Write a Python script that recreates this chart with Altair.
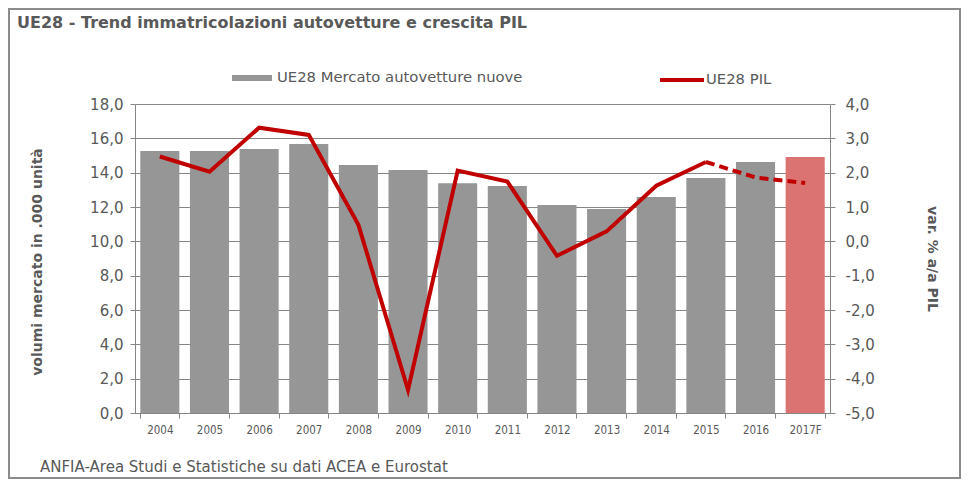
import altair as alt
import pandas as pd

# ---- data ----
anni = ["2004", "2005", "2006", "2007", "2008", "2009", "2010",
        "2011", "2012", "2013", "2014", "2015", "2016", "2017F"]
mercato = [15.26, 15.26, 15.38, 15.67, 14.44, 14.15, 13.39,
           13.22, 12.11, 11.88, 12.58, 13.69, 14.62, 14.91]
pil = [2.47, 2.03, 3.31, 3.10, 0.48, -4.33, 2.06,
       1.74, -0.42, 0.29, 1.62, 2.31, 1.86, 1.70]
anni_consuntivo = anni[:12]      # solid line 2004-2015
anni_previsione = anni[11:]      # dashed line 2015-2017F
serie_barre = "UE28 Mercato autovetture nuove"
serie_prev = "Previsione"
serie_linea = "UE28 PIL"
tipo = [serie_barre] * 13 + [serie_prev]
titolo = "UE28 - Trend immatricolazioni autovetture e crescita PIL"
fonte = "ANFIA-Area Studi e Statistiche su dati ACEA e Eurostat"
titolo_sx = "volumi mercato in .000 unità"
titolo_dx = "var. % a/a PIL"
tick_sx = [0, 2, 4, 6, 8, 10, 12, 14, 16, 18]
tick_dx = [-5, -4, -3, -2, -1, 0, 1, 2, 3, 4]

# ---- layout / style ----
W, H = 695, 309
PAD_IN = 0.213
FONT = "DejaVu Sans"
FONT_X = "DejaVu Sans Condensed"
GREY_TXT = "#595959"
GRID = "#868686"
RED = "#c00000"
BAR_GREY = "#969696"
BAR_RED = "#dc7373"

df = pd.DataFrame({"anno": anni, "mercato": mercato, "pil": pil,
                   "tipo": tipo, "serie_pil": serie_linea})

label_expr = ("replace(replace(format(datum.value, '.1f'), '.', ','), "
              "'\u2212', '-')")

x_scale = alt.Scale(domain=anni, paddingInner=PAD_IN, paddingOuter=PAD_IN / 2)
x_axis = alt.Axis(title=None, labelAngle=0, tickBand="extent", tickSize=5,
                  tickColor=GRID, domainColor=GRID, labelFont=FONT_X,
                  labelFontSize=11.5, labelColor=GREY_TXT, labelPadding=6,
                  grid=False)
x_enc = alt.X("anno:N", sort=anni, scale=x_scale, axis=x_axis)

y_bar_scale = alt.Scale(domain=[0, 18], nice=False, zero=True)
y_bar_axis = alt.Axis(values=tick_sx, labelExpr=label_expr, grid=True,
                      gridColor=GRID, gridWidth=1, domainColor=GRID,
                      tickColor=GRID, tickSize=5, labelFont=FONT,
                      labelFontSize=15, labelColor=GREY_TXT, labelPadding=7,
                      title=titolo_sx, titleFont=FONT, titleFontSize=14,
                      titleFontWeight="bold", titleColor=GREY_TXT,
                      titleX=-98, titleY=H / 2 + 3, titleAngle=270,
                      titleBaseline="middle", titleAlign="center")

y_pil_scale = alt.Scale(domain=[-5, 4], nice=False, zero=False)
y_pil_axis = alt.Axis(orient="right", values=tick_dx, labelExpr=label_expr,
                      grid=False, domainColor=GRID, tickColor=GRID,
                      tickSize=5, labelFont=FONT, labelFontSize=15,
                      labelColor=GREY_TXT, labelPadding=10,
                      title=titolo_dx, titleFont=FONT, titleFontSize=14,
                      titleFontWeight="bold", titleColor=GREY_TXT,
                      titleX=101, titleY=H / 2, titleAngle=90,
                      titleBaseline="middle", titleAlign="center")

base = alt.Chart(df)

bars = base.mark_bar().encode(
    x=x_enc,
    y=alt.Y("mercato:Q", scale=y_bar_scale, axis=y_bar_axis),
    fill=alt.Fill("tipo:N",
                  scale=alt.Scale(domain=[serie_barre, serie_prev],
                                  range=[BAR_GREY, BAR_RED]),
                  legend=alt.Legend(title=None, values=[serie_barre],
                                    orient="none", legendX=97, legendY=-46,
                                    symbolType="M-1,-0.15L1,-0.15L1,0.15L-1,0.15Z",
                                    symbolSize=1600, symbolStrokeWidth=0,
                                    symbolOpacity=1,
                                    labelFont=FONT, labelFontSize=14.8,
                                    labelColor=GREY_TXT, labelLimit=400,
                                    labelOffset=5, padding=0)),
)

line_solid = base.transform_filter(
    alt.FieldOneOfPredicate(field="anno", oneOf=anni_consuntivo)
).mark_line(strokeWidth=4).encode(
    x=x_enc,
    y=alt.Y("pil:Q", scale=y_pil_scale, axis=y_pil_axis),
    stroke=alt.Stroke("serie_pil:N", scale=alt.Scale(range=[RED]),
                      legend=alt.Legend(title=None, orient="none",
                                        legendX=523, legendY=-48,
                                        symbolType="stroke", symbolSize=1936,
                                        symbolStrokeWidth=4,
                                        labelFont=FONT, labelFontSize=14.8,
                                        labelColor=GREY_TXT, labelLimit=400,
                                        labelOffset=0, padding=0)),
)
line_dash = base.transform_filter(
    alt.FieldOneOfPredicate(field="anno", oneOf=anni_previsione)
).mark_line(strokeWidth=4, stroke=RED, strokeDash=[9, 5]).encode(
    x=x_enc,
    y=alt.Y("pil:Q", scale=y_pil_scale, axis=None),
)

one = pd.DataFrame({"t": [titolo], "f": [fonte]})
frame = alt.Chart(one).mark_rect(fillOpacity=0, stroke="#8c8c8c",
                                 strokeWidth=2).encode(
    x=alt.value(-126), x2=alt.value(W + 130),
    y=alt.value(-95), y2=alt.value(H + 65))
title_txt = alt.Chart(one).mark_text(
    align="left", baseline="alphabetic", font=FONT, fontSize=16,
    fontWeight="bold", color=GREY_TXT
).encode(text="t:N", x=alt.value(-118), y=alt.value(-76))
foot_txt = alt.Chart(one).mark_text(
    align="left", baseline="alphabetic", font=FONT, fontSize=15,
    color=GREY_TXT
).encode(text="f:N", x=alt.value(-95), y=alt.value(368))

chart = alt.layer(bars, line_solid, line_dash, frame, title_txt,
                  foot_txt).resolve_scale(
    y="independent", fill="independent", stroke="independent"
).properties(
    width=W, height=H,
    autosize=alt.AutoSizeParams(type="none"),
    padding={"left": 127, "top": 96, "right": 131, "bottom": 66},
    background="white",
).configure_view(strokeWidth=0)

chart.save("out.html", embed_options={"renderer": "svg", "actions": False})
